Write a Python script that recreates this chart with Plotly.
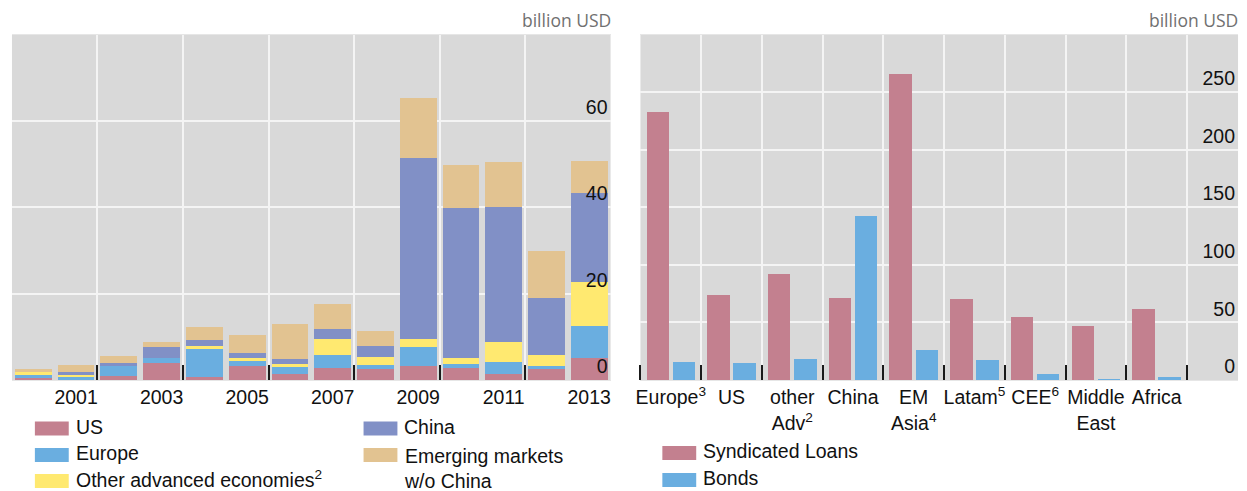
import plotly.graph_objects as go

# ---------------- data: left panel (stacked) ----------------
years = list(range(2000, 2014))
year_labels = ["2001", "2003", "2005", "2007", "2009", "2011", "2013"]
us = [0.5, 0.1, 0.9, 3.9, 0.65, 3.2, 1.35, 2.7, 2.5, 3.2, 2.7, 1.35, 2.7, 5.0]
europe = [0.85, 0.8, 2.55, 1.15, 6.7, 1.4, 1.85, 3.0, 0.9, 4.4, 0.9, 2.75, 0.45, 7.6]
other_adv = [0.45, 0.25, 0.0, 0.0, 0.45, 0.45, 0.45, 3.9, 1.85, 1.85, 1.4, 4.6, 2.55, 10.1]
china = [0.0, 0.7, 0.45, 2.55, 1.4, 1.15, 1.15, 2.1, 2.55, 41.85, 34.9, 31.25, 13.2, 20.6]
em_ex_china = [0.7, 1.6, 1.6, 1.15, 3.0, 4.15, 8.1, 6.0, 3.45, 14.1, 9.95, 10.45, 10.9, 7.4]
left_ticks = [0, 20, 40, 60]

# ---------------- data: right panel (grouped) ----------------
regions = ["Europe<sup>3</sup>", "US", "other<br>Adv<sup>2</sup>", "China",
           "EM<br>Asia<sup>4</sup>", "Latam<sup>5</sup>", "CEE<sup>6</sup>",
           "Middle<br>East", "Africa"]
loans = [233, 74, 92, 71, 266, 70, 55, 47, 62]
bonds = [15.5, 15, 18, 142.5, 26, 17.5, 5, 1, 2.5]
right_ticks = [0, 50, 100, 150, 200, 250]

# ---------------- style ----------------
W, H = 1247, 491
C_US = "#c3808f"
C_EU = "#6aaee0"
C_OA = "#ffe970"
C_CN = "#8190c6"
C_EM = "#e2c391"
BG = "#d9d9d9"
GRID = "#f4f4f4"
FONT = "Liberation Sans"
FS = 19.5

L_RANGE = [1999.5, 2013.5]
R_RANGE = [-0.5, 9.34]


def px(x):
    return x / W


def py(y):
    return 1 - y / H


fig = go.Figure()

series = [("US", us, C_US), ("Europe", europe, C_EU),
          ("Other advanced economies", other_adv, C_OA),
          ("China", china, C_CN), ("Emerging markets w/o China", em_ex_china, C_EM)]
for name, vals, col in series:
    fig.add_trace(go.Bar(x=years, y=vals, name=name, marker_color=col,
                         marker_line_width=0, width=0.86, xaxis="x", yaxis="y",
                         showlegend=False))

idx = list(range(len(regions)))
fig.add_trace(go.Bar(x=[i - 0.215 for i in idx], y=loans, name="Syndicated Loans",
                     marker_color=C_US, marker_line_width=0, width=0.37,
                     xaxis="x2", yaxis="y2", showlegend=False))
fig.add_trace(go.Bar(x=[i + 0.215 for i in idx], y=bonds, name="Bonds",
                     marker_color=C_EU, marker_line_width=0, width=0.37,
                     xaxis="x2", yaxis="y2", showlegend=False))

# transparent companions so the label-only overlay axes get drawn
fig.add_trace(go.Scatter(x=years, y=us, mode="markers", marker_opacity=0,
                         hoverinfo="skip", showlegend=False, xaxis="x3", yaxis="y3"))
fig.add_trace(go.Scatter(x=idx, y=loans, mode="markers", marker_opacity=0,
                         hoverinfo="skip", showlegend=False, xaxis="x4", yaxis="y4"))

ydom = [py(380), py(34.5)]
LDOM = [px(7), px(608)]
RDOM = [px(638), px(1238)]
common_x = dict(showgrid=False, zeroline=False, ticks="", showline=True,
                linecolor="#e6e6e6", linewidth=1, mirror=True,
                ticklabeloverflow="allow",
                tickfont=dict(family=FONT, size=FS, color="#111"))
hidden_x = dict(showgrid=False, zeroline=False, ticks="", showline=False,
                showticklabels=False)
grid_y = dict(side="right", showgrid=True, gridcolor=GRID, gridwidth=2,
              zeroline=False, ticks="", showticklabels=False, showline=False)
label_y = dict(side="right", showgrid=False, zeroline=False, ticks="", visible=True,
               showticklabels=True, ticklabelposition="inside top", showline=False,
               tickfont=dict(family=FONT, size=FS, color="#111"))

fig.update_layout(
    width=W, height=H, margin=dict(l=0, r=0, t=0, b=0),
    paper_bgcolor="white", plot_bgcolor=BG,
    barmode="stack", showlegend=False,
    xaxis=dict(domain=LDOM, range=L_RANGE, anchor="y",
               tickmode="array", tickvals=[int(v) for v in year_labels], ticktext=year_labels,
               minor=dict(tickmode="array",
                          tickvals=[2001.5, 2003.5, 2005.5, 2007.5, 2009.5, 2011.5],
                          showgrid=True, gridcolor=GRID, gridwidth=2,
                          ticks="inside", ticklen=15, tickwidth=2, tickcolor="#1a1a1a"),
               **common_x),
    yaxis=dict(domain=ydom, range=[0, 80], anchor="x", tickmode="array",
               tickvals=left_ticks, **grid_y),
    xaxis3=dict(domain=LDOM, range=L_RANGE, anchor="y", overlaying="x", **hidden_x),
    yaxis3=dict(domain=ydom, range=[0, 80], anchor="x3", overlaying="y",
                tickmode="array", tickvals=left_ticks, **label_y),
    xaxis2=dict(domain=RDOM, range=R_RANGE, anchor="y2",
                tickmode="array", tickvals=idx, ticktext=regions,
                minor=dict(tickmode="array", tickvals=[i - 0.5 for i in range(10)],
                           showgrid=True, gridcolor=GRID, gridwidth=2,
                           ticks="inside", ticklen=15, tickwidth=2, tickcolor="#1a1a1a"),
                **common_x),
    yaxis2=dict(domain=ydom, range=[0, 300], anchor="x2", tickmode="array",
                tickvals=right_ticks, **grid_y),
    xaxis4=dict(domain=RDOM, range=R_RANGE, anchor="y2", overlaying="x2", **hidden_x),
    yaxis4=dict(domain=ydom, range=[0, 300], anchor="x4", overlaying="y2",
                tickmode="array", tickvals=right_ticks, **label_y),
)

# unit labels
for xr in (610, 1240):
    fig.add_annotation(x=px(xr), y=py(20), xref="paper", yref="paper",
                       xanchor="right", yanchor="middle", showarrow=False,
                       text="billion USD",
                       font=dict(family="Open Sans", size=17.5, color="#707070"))

# legends (swatches + labels)
legend_items = [
    (30, 428.5, C_US, "US"),
    (30, 455, C_EU, "Europe"),
    (30, 481, C_OA, "Other advanced economies<sup>2</sup>"),
    (360, 428.5, C_CN, "China"),
    (360, 455, C_EM, "Emerging markets<br>w/o China"),
    (660, 453, C_US, "Syndicated Loans"),
    (660, 480, C_EU, "Bonds"),
]
for x0, yc, col, label in legend_items:
    fig.add_shape(type="rect", xref="paper", yref="paper",
                  x0=px(x0), x1=px(x0 + 34), y0=py(yc + 7), y1=py(yc - 7),
                  fillcolor=col, line_width=0)
    multi = "<br>" in label
    fig.add_annotation(x=px(x0 + 39), y=py(yc - 2 if not multi else yc - 12),
                       xref="paper", yref="paper",
                       xanchor="left", yanchor="middle" if not multi else "top",
                       align="left", showarrow=False, text=label,
                       font=dict(family=FONT, size=FS, color="#111"))

fig.write_html("out.html", config={"displayModeBar": False},
               post_script="document.body.style.margin='0';document.body.style.padding='0';")
